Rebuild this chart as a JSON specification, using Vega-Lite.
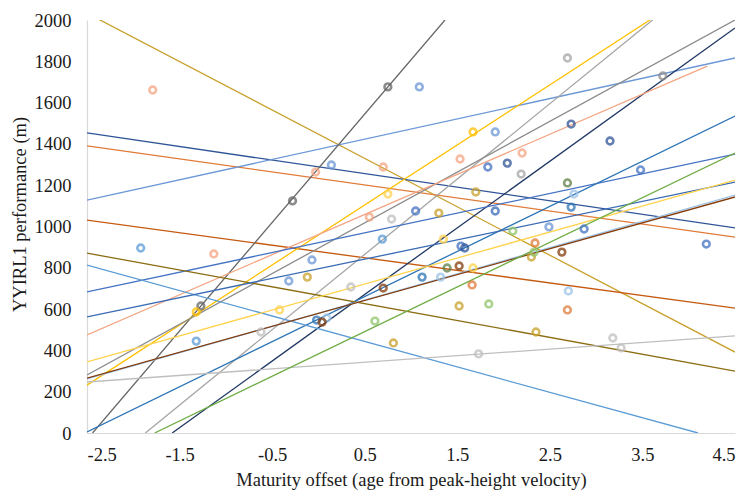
{
  "$schema": "https://vega.github.io/schema/vega-lite/v6.json",
  "width": 648,
  "height": 413,
  "autosize": "none",
  "padding": {"left": 87, "top": 20, "right": 16, "bottom": 65},
  "background": "white",
  "config": {
    "view": {"stroke": null},
    "axis": {
      "grid": false,
      "ticks": false,
      "domainColor": "#D9D9D9",
      "domainWidth": 1.2,
      "labelFont": "Liberation Serif",
      "labelFontSize": 18.5,
      "labelColor": "#1a1a1a",
      "titleFont": "Liberation Serif",
      "titleFontSize": 18.5,
      "titleFontWeight": "normal",
      "titleColor": "#1a1a1a"
    }
  },
  "datasets": {
    "lines": [
      {"s": "gold", "x": -2.5, "y": 2033}, {"s": "gold", "x": 4.5, "y": 392},
      {"s": "navy2", "x": -2.5, "y": 1453}, {"s": "navy2", "x": 4.5, "y": 993},
      {"s": "orange", "x": -2.5, "y": 1390}, {"s": "orange", "x": 4.5, "y": 949},
      {"s": "ltblue", "x": -2.5, "y": 1128}, {"s": "ltblue", "x": 4.5, "y": 1816},
      {"s": "dkorange", "x": -2.5, "y": 1031}, {"s": "dkorange", "x": 4.5, "y": 605},
      {"s": "dkgray", "x": -2.44, "y": 0}, {"s": "dkgray", "x": 1.367, "y": 2000},
      {"s": "yellow", "x": -2.5, "y": 232}, {"s": "yellow", "x": 3.58, "y": 2000},
      {"s": "ltgray", "x": -1.87, "y": 0}, {"s": "ltgray", "x": 3.61, "y": 2000},
      {"s": "gray", "x": -2.5, "y": 281}, {"s": "gray", "x": 4.5, "y": 2000},
      {"s": "navy", "x": -1.58, "y": 0}, {"s": "navy", "x": 4.5, "y": 1961},
      {"s": "salmon", "x": -2.5, "y": 475}, {"s": "salmon", "x": 4.2, "y": 1777},
      {"s": "blue", "x": -2.5, "y": 683}, {"s": "blue", "x": 4.5, "y": 1351},
      {"s": "steel", "x": -2.5, "y": 5}, {"s": "steel", "x": 4.5, "y": 1535},
      {"s": "olive", "x": -2.5, "y": 871}, {"s": "olive", "x": 4.5, "y": 300},
      {"s": "skyblue", "x": -2.5, "y": 813}, {"s": "skyblue", "x": 4.1, "y": 0},
      {"s": "blue2", "x": -2.5, "y": 562}, {"s": "blue2", "x": 4.5, "y": 1215},
      {"s": "ltyellow", "x": -2.5, "y": 344}, {"s": "ltyellow", "x": 4.5, "y": 1225},
      {"s": "paleblue", "x": -2.5, "y": 262}, {"s": "paleblue", "x": 4.5, "y": 1152},
      {"s": "brown", "x": -2.5, "y": 266}, {"s": "brown", "x": 4.5, "y": 1143},
      {"s": "silver", "x": -2.5, "y": 247}, {"s": "silver", "x": 4.5, "y": 470},
      {"s": "green", "x": -1.77, "y": 0}, {"s": "green", "x": 4.5, "y": 1356}
    ],
    "points": [
      {"s": "salmon", "x": -1.79, "y": 1661},
      {"s": "skyblue", "x": -1.92, "y": 896},
      {"s": "salmon", "x": -1.13, "y": 867},
      {"s": "skyblue", "x": -1.32, "y": 445},
      {"s": "dkgray", "x": -1.27, "y": 615},
      {"s": "yellow", "x": -1.32, "y": 586},
      {"s": "ltyellow", "x": -0.42, "y": 596},
      {"s": "ltblue", "x": -0.32, "y": 736},
      {"s": "silver", "x": -0.62, "y": 489},
      {"s": "dkgray", "x": -0.28, "y": 1124},
      {"s": "dkgray", "x": 0.75, "y": 1676},
      {"s": "ltblue", "x": 1.09, "y": 1676},
      {"s": "yellow", "x": 1.67, "y": 1458},
      {"s": "ltblue", "x": 1.91, "y": 1458},
      {"s": "salmon", "x": 1.53, "y": 1327},
      {"s": "blue", "x": 1.83, "y": 1288},
      {"s": "navy2", "x": 2.04, "y": 1307},
      {"s": "ltblue", "x": 0.14, "y": 1298},
      {"s": "salmon", "x": -0.03, "y": 1264},
      {"s": "salmon", "x": 0.7, "y": 1288},
      {"s": "ltyellow", "x": 0.75, "y": 1157},
      {"s": "salmon", "x": 0.55, "y": 1046},
      {"s": "silver", "x": 0.79, "y": 1036},
      {"s": "blue", "x": 1.05, "y": 1075},
      {"s": "gold", "x": 1.3, "y": 1065},
      {"s": "gold", "x": 1.7, "y": 1167},
      {"s": "blue2", "x": 1.91, "y": 1075},
      {"s": "ltgray", "x": 2.69, "y": 1816},
      {"s": "gray", "x": 3.72, "y": 1729},
      {"s": "navy2", "x": 2.73, "y": 1496},
      {"s": "navy2", "x": 3.15, "y": 1414},
      {"s": "salmon", "x": 2.2, "y": 1356},
      {"s": "ltgray", "x": 2.19, "y": 1254},
      {"s": "blue", "x": 3.48, "y": 1274},
      {"s": "dkgreen", "x": 2.69, "y": 1211},
      {"s": "paleblue", "x": 2.76, "y": 1157},
      {"s": "steel", "x": 2.73, "y": 1094},
      {"s": "ltblue", "x": 2.49, "y": 998},
      {"s": "blue", "x": 2.87, "y": 988},
      {"s": "skyblue", "x": 0.69, "y": 939},
      {"s": "ltyellow", "x": 1.35, "y": 939},
      {"s": "blue", "x": 1.54, "y": 905},
      {"s": "navy2", "x": 1.58, "y": 896},
      {"s": "ltblue", "x": -0.07, "y": 838},
      {"s": "gold", "x": -0.12, "y": 755},
      {"s": "silver", "x": 0.35, "y": 707},
      {"s": "brown", "x": 0.7, "y": 702},
      {"s": "steel", "x": 1.12, "y": 755},
      {"s": "paleblue", "x": 1.32, "y": 755},
      {"s": "dkgreen", "x": 1.39, "y": 799},
      {"s": "brown", "x": 1.52, "y": 809},
      {"s": "ltyellow", "x": 1.67, "y": 799},
      {"s": "orange", "x": 1.66, "y": 717},
      {"s": "gold", "x": 1.52, "y": 615},
      {"s": "ltgreen", "x": 1.84, "y": 625},
      {"s": "ltgreen", "x": 0.61, "y": 542},
      {"s": "steel", "x": -0.02, "y": 547},
      {"s": "paleblue", "x": 0.09, "y": 557},
      {"s": "brown", "x": 0.04, "y": 537},
      {"s": "gold", "x": 0.81, "y": 436},
      {"s": "silver", "x": 1.73, "y": 383},
      {"s": "ltgreen", "x": 2.1, "y": 978},
      {"s": "orange", "x": 2.34, "y": 920},
      {"s": "gold", "x": 2.3, "y": 852},
      {"s": "ltgreen", "x": 2.33, "y": 876},
      {"s": "brown", "x": 2.63, "y": 876},
      {"s": "blue", "x": 4.19, "y": 915},
      {"s": "paleblue", "x": 2.7, "y": 688},
      {"s": "orange", "x": 2.69, "y": 596},
      {"s": "gold", "x": 2.35, "y": 489},
      {"s": "silver", "x": 3.18, "y": 460},
      {"s": "silver", "x": 3.27, "y": 412}
    ]
  },
  "encoding": {
    "x": {
      "field": "x", "type": "quantitative",
      "scale": {"domain": [-2.5, 4.5], "nice": false, "zero": false},
      "axis": {
        "values": [-2.5, -1.5, -0.5, 0.5, 1.5, 2.5, 3.5, 4.5],
        "labelExpr": "replace(format(datum.value, '.1f'), '\u2212', '-')",
        "labelPadding": 12,
        "titlePadding": 7,
        "title": "Maturity offset (age from peak-height velocity)"
      }
    },
    "y": {
      "field": "y", "type": "quantitative",
      "scale": {"domain": [0, 2000], "nice": false},
      "axis": {
        "values": [0, 200, 400, 600, 800, 1000, 1200, 1400, 1600, 1800, 2000],
        "format": "d",
        "labelPadding": 16,
        "titlePadding": 5,
        "titleY": 194,
        "title": "YYIRL1 performance (m)"
      }
    },
    "color": {
      "field": "s", "type": "nominal", "legend": null,
      "scale": {
        "domain": ["gold", "navy2", "orange", "ltblue", "dkorange", "dkgray", "yellow", "ltgray", "gray", "navy", "salmon", "blue", "steel", "olive", "skyblue", "blue2", "ltyellow", "paleblue", "brown", "silver", "green", "dkgreen", "ltgreen"],
        "range": ["#C9A12B", "#2F5597", "#E07B39", "#6C97D6", "#C55A11", "#666666", "#FFC000", "#A5A5A5", "#8C8C8C", "#203864", "#F4A582", "#4472C4", "#2E75B6", "#8C6D12", "#5B9BD5", "#3A6BB5", "#FFD34D", "#9DC3E6", "#843C0C", "#BFBFBF", "#70AD47", "#5E7F45", "#8FC46A"]
      }
    }
  },
  "layer": [
    {
      "data": {"name": "lines"},
      "mark": {"type": "line", "strokeWidth": 1.3, "clip": true},
      "encoding": {"detail": {"field": "s"}}
    },
    {
      "data": {"name": "points"},
      "mark": {"type": "point", "filled": false, "size": 45, "strokeWidth": 2.6, "opacity": 0.75}
    }
  ]
}
